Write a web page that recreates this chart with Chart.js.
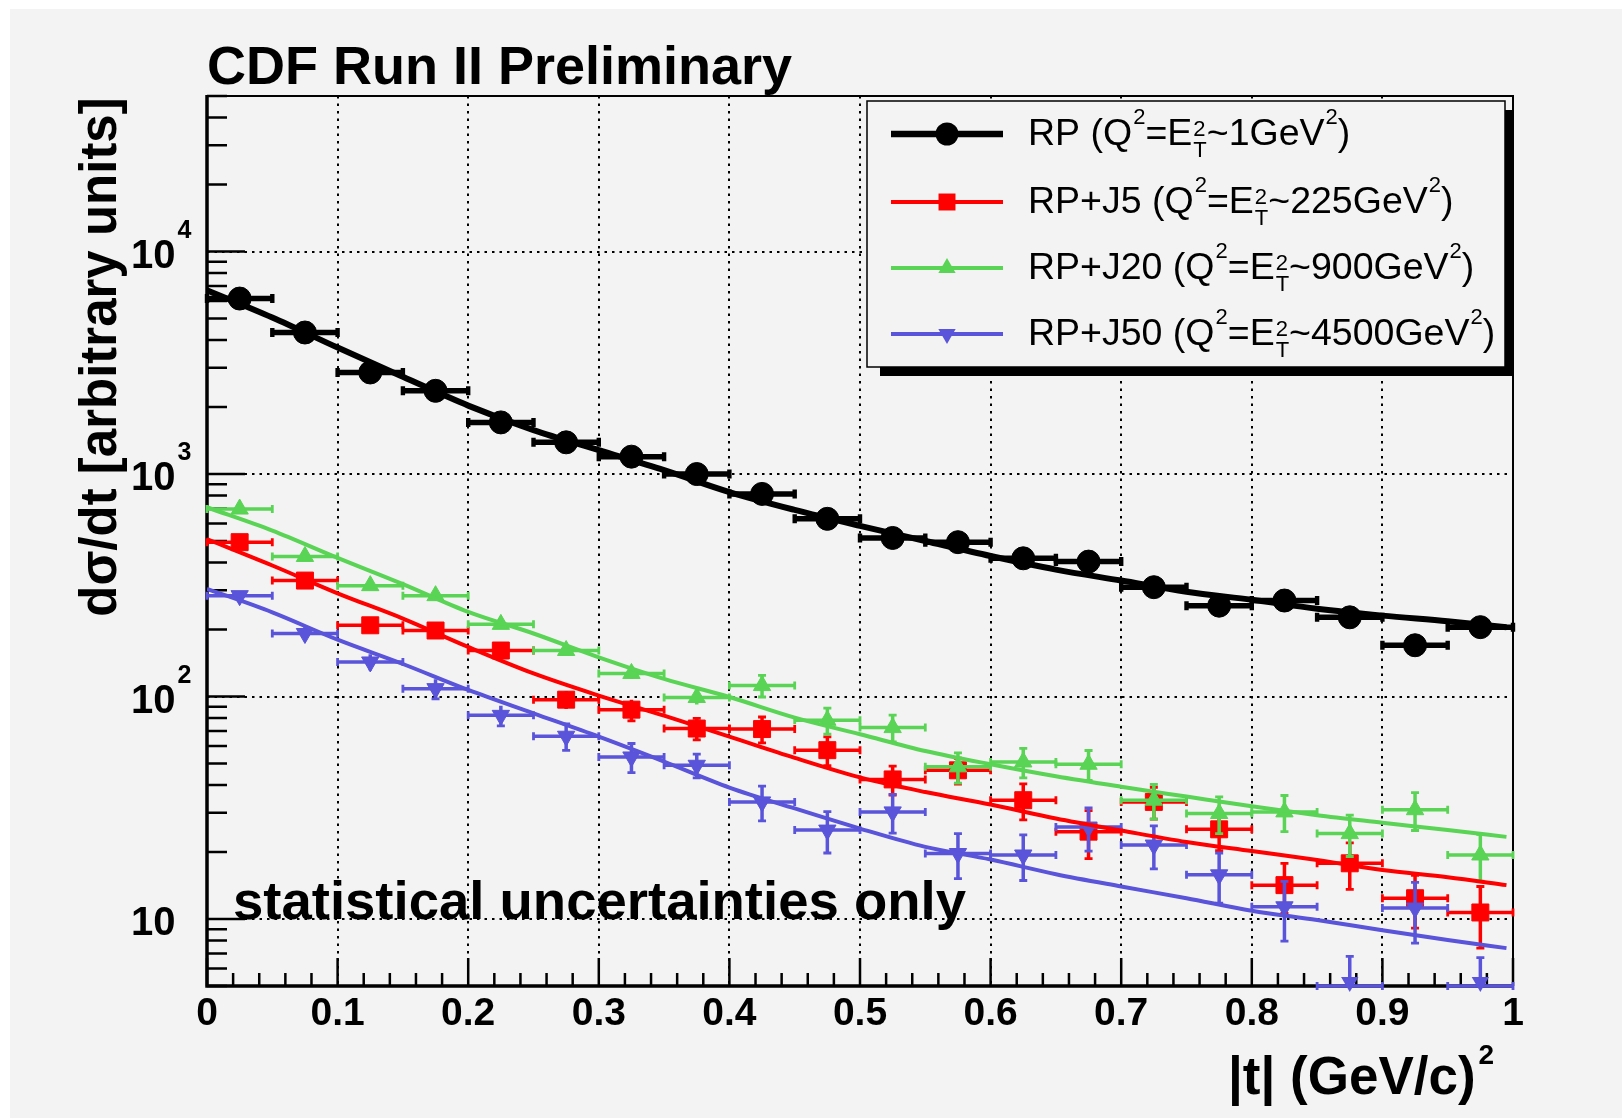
<!DOCTYPE html>
<html>
<head>
<meta charset="utf-8">
<title>CDF Run II Preliminary - d&sigma;/dt</title>
<script src="https://cdn.jsdelivr.net/npm/chart.js@4.4.1/dist/chart.umd.min.js"></script>
<style>
  html, body { margin: 0; padding: 0; background: #fff; }
  canvas { display: block; }
</style>
</head>
<body>
<canvas id="chart" width="1622" height="1118"></canvas>
<script>
// |t| bin centres (GeV/c)^2, bins are 0.05 wide
const tBins = [0.025, 0.075, 0.125, 0.175, 0.225, 0.275, 0.325, 0.375, 0.425, 0.475,
               0.525, 0.575, 0.625, 0.675, 0.725, 0.775, 0.825, 0.875, 0.925, 0.975];
const tHalfWidth = 0.025;

// measured d sigma / dt (arbitrary units) with statistical errors
const rpValues  = [6146, 4325, 2860, 2366, 1706, 1388, 1197, 1000, 814, 629,
                   516, 494, 418, 404, 310, 256, 270, 227, 170, 205];
const rpErrors  = [60, 45, 35, 30, 25, 20, 18, 16, 14, 12, 10, 10, 9, 9, 8, 7, 7, 6, 6, 6];
const j5Values  = [494, 332, 209, 198, 161, 96.8, 87.3, 71.8, 71.4, 57.4,
                   42.4, 46.6, 34.2, 24.7, 33.6, 25.3, 14.2, 17.8, 12.4, 10.7];
const j5Errors  = [20, 15, 10, 10, 10, 9, 9.5, 8, 9.5, 8.5, 6.3, 6.2, 6.3, 6, 5.5, 5, 3.6, 4.2, 3.3, 3.3];
const j20Values = [696, 426, 315, 284, 211, 161, 127, 99, 112, 78.2,
                   72.5, 48.3, 50.8, 49.6, 34.2, 29.8, 30.3, 24.2, 31.0, 19.4];
const j20Errors = [20, 15, 12, 10, 10, 8, 7, 7, 12.5, 10.5, 10, 7.5, 7.7, 7.6, 6.1, 5.6, 5.6, 5.1, 6, 4.6];
// empty bins (0) sit below the axis and are drawn on the frame edge
const j50Values = [284, 192, 143, 108.5, 82.3, 66.3, 53.5, 49.1, 33.6, 25.1,
                   30.3, 19.7, 19.4, 25.9, 21.5, 15.8, 11.35, 0, 11.2, 0];
const j50Errors = [12, 14, 12, 11, 8.5, 9, 8, 6, 6, 5.3, 6, 4.5, 4.5, 5.7, 4.7, 4, 3.4, 6.8, 3.4, 6.7];

// fitted curves
const fitT     = [0, 0.05, 0.1, 0.15, 0.2, 0.25, 0.3, 0.35, 0.4, 0.45, 0.5,
                  0.55, 0.6, 0.65, 0.7, 0.75, 0.8, 0.85, 0.9, 0.95, 0.995];
const rpFit    = [6700, 5050, 3700, 2735, 2030, 1576, 1280, 1040, 830, 690, 585,
                  500, 428, 372, 332, 296, 272, 248, 231, 218, 205];
const j5Fit    = [510, 388, 291, 224, 167, 127, 101, 82, 66, 53, 43.3,
                  37.2, 32.7, 28.3, 25, 22.2, 20.2, 18.4, 16.6, 15.4, 14.2];
const j20Fit   = [709, 557, 420, 320, 240, 192, 150, 120, 99.5, 80.4, 67.7,
                  56.9, 49.6, 43.8, 39.3, 35.5, 32.1, 29.3, 27.1, 25.1, 23.4];
const j50Fit   = [305, 239, 180, 140, 107, 84, 66, 51, 39, 31.4, 25.5,
                  21.1, 18.5, 15.9, 14.0, 12.4, 10.9, 9.9, 8.9, 8.05, 7.4];

// axes
const xTickValues = [0, 0.1, 0.2, 0.3, 0.4, 0.5, 0.6, 0.7, 0.8, 0.9, 1];
const xTickLabels = ['0', '0.1', '0.2', '0.3', '0.4', '0.5', '0.6', '0.7', '0.8', '0.9', '1'];
const xGridValues = [0.1, 0.2, 0.3, 0.4, 0.5, 0.6, 0.7, 0.8, 0.9];
const yTickValues = [10, 100, 1000, 10000];
const yTickLabels = ['10', '10^{2}', '10^{3}', '10^{4}'];

const legendLabels = [
  'RP (Q^{2}=E^{2}_{T}~1GeV^{2})',
  'RP+J5 (Q^{2}=E^{2}_{T}~225GeV^{2})',
  'RP+J20 (Q^{2}=E^{2}_{T}~900GeV^{2})',
  'RP+J50 (Q^{2}=E^{2}_{T}~4500GeV^{2})'
];

const BG = '#f3f3f3';
const BLACK = '#000000', RED = '#ff0000', GREEN = '#59d454', BLUE = '#5954d9';

function font(weight, size) {
  return weight + ' ' + size + 'px "Liberation Sans", Arial, Helvetica, sans-serif';
}

// tiny TLatex-like parser: plain text, ^{sup}, _{sub}, ^{sup}_{sub} stacked
function parseLatex(s) {
  const parts = [];
  const re = /\^\{([^}]*)\}(?:_\{([^}]*)\})?|_\{([^}]*)\}|[^^_]+/g;
  let m;
  while ((m = re.exec(s))) {
    if (m[1] !== undefined) parts.push({ sup: m[1], sub: m[2] });
    else if (m[3] !== undefined) parts.push({ sub: m[3] });
    else parts.push({ text: m[0] });
  }
  return parts;
}

function drawLatex(ctx, str, x, y, o) {
  const parts = parseLatex(str);
  ctx.textBaseline = 'alphabetic';
  ctx.textAlign = 'left';
  let cx = x;
  parts.forEach(p => {
    if (p.text !== undefined) {
      ctx.font = o.font;
      ctx.fillText(p.text, cx, y);
      cx += ctx.measureText(p.text).width;
    } else {
      ctx.font = o.script;
      let w = 0;
      if (p.sup !== undefined && p.sub !== undefined) {
        ctx.fillText(p.sup, cx + o.supGap, y - o.stackRise);
        ctx.fillText(p.sub, cx + o.supGap, y + o.stackDrop);
        w = Math.max(ctx.measureText(p.sup).width, ctx.measureText(p.sub).width) + o.supGap;
      } else if (p.sup !== undefined) {
        ctx.fillText(p.sup, cx + o.supGap, y - o.supRise);
        w = ctx.measureText(p.sup).width + o.supGap;
      } else {
        ctx.fillText(p.sub, cx, y + o.stackDrop);
        w = ctx.measureText(p.sub).width;
      }
      cx += w;
    }
  });
  return cx - x;
}

function drawMarker(ctx, style, x, y, r, color) {
  ctx.fillStyle = color;
  ctx.beginPath();
  if (style === 'circle') {
    ctx.arc(x, y, r, 0, Math.PI * 2);
  } else if (style === 'rect') {
    const h = r * Math.SQRT1_2;
    ctx.rect(x - h, y - h, 2 * h, 2 * h);
  } else {
    const s = style === 'triangleDown' ? -1 : 1;
    const w = r * Math.sqrt(3) / 2;
    ctx.moveTo(x, y - s * r);
    ctx.lineTo(x + w, y + s * r / 2);
    ctx.lineTo(x - w, y + s * r / 2);
    ctx.closePath();
  }
  ctx.fill();
}

function points(values) {
  return tBins.map((t, i) => ({ x: t, y: values[i] }));
}
function curve(values) {
  return fitT.map((t, i) => ({ x: t, y: values[i] }));
}

const series = [
  { values: rpValues,  errors: rpErrors,  fit: rpFit,  color: BLACK, style: 'circle',       radius: 11.5, rot: 0,   bar: 5.5, cap: 9, fitWidth: 6,   legendWidth: 6.5 },
  { values: j5Values,  errors: j5Errors,  fit: j5Fit,  color: RED,   style: 'rect',         radius: 12,   rot: 0,   bar: 3.5, cap: 8, fitWidth: 4,   legendWidth: 4 },
  { values: j20Values, errors: j20Errors, fit: j20Fit, color: GREEN, style: 'triangle',     radius: 10,   rot: 0,   bar: 3.5, cap: 8, fitWidth: 4,   legendWidth: 4 },
  { values: j50Values, errors: j50Errors, fit: j50Fit, color: BLUE,  style: 'triangleDown', radius: 10,   rot: 180, bar: 3.5, cap: 8, fitWidth: 4,   legendWidth: 4 }
];

const datasets = [];
series.forEach((s, i) => {
  datasets.push({
    type: 'line',
    data: curve(s.fit),
    borderColor: s.color,
    borderWidth: s.fitWidth,
    pointRadius: 0,
    fill: false,
    cubicInterpolationMode: 'monotone',
    order: 3 - i
  });
});
series.forEach((s, i) => {
  datasets.push({
    type: 'scatter',
    data: points(s.values),
    pointStyle: s.style === 'triangleDown' ? 'triangle' : s.style,
    pointRotation: s.rot,
    pointRadius: s.radius,
    pointHoverRadius: s.radius,
    pointBorderWidth: 1,
    backgroundColor: s.color,
    borderColor: s.color,
    clip: false,
    errors: s.errors,
    markerStyle: s.style,
    errColor: s.color,
    errBar: s.bar,
    errCap: s.cap,
    order: 10 - i
  });
});

// error bars are drawn just before each marker set
const errorBarPlugin = {
  id: 'errorBars',
  beforeDatasetDraw(chart, args) {
    const ds = chart.data.datasets[args.index];
    if (!ds.errors) return;
    const ctx = chart.ctx;
    const xs = chart.scales.x, ys = chart.scales.y;
    const area = chart.chartArea;
    ctx.save();
    ctx.strokeStyle = ds.errColor;
    ds.data.forEach((p, i) => {
      const err = ds.errors[i];
      const px = xs.getPixelForValue(p.x);
      const py = Math.min(ys.getPixelForValue(p.y), area.bottom);
      const x0 = xs.getPixelForValue(p.x - tHalfWidth);
      const x1 = xs.getPixelForValue(p.x + tHalfWidth);
      const lo = p.y - err;
      const yLo = lo > 0 ? Math.min(ys.getPixelForValue(lo), area.bottom) : area.bottom;
      const yHi = ys.getPixelForValue(p.y + err);
      const c = ds.errCap / 2;
      ctx.lineWidth = ds.errBar;
      ctx.beginPath();
      ctx.moveTo(x0, py); ctx.lineTo(x1, py);
      ctx.moveTo(px, yLo); ctx.lineTo(px, yHi);
      ctx.stroke();
      ctx.lineWidth = ds.errBar * 0.8;
      ctx.beginPath();
      ctx.moveTo(x0, py - c); ctx.lineTo(x0, py + c);
      ctx.moveTo(x1, py - c); ctx.lineTo(x1, py + c);
      if (yHi < py - 10) { ctx.moveTo(px - c, yHi); ctx.lineTo(px + c, yHi); }
      if (yLo > py + 10 && yLo < area.bottom) { ctx.moveTo(px - c, yLo); ctx.lineTo(px + c, yLo); }
      ctx.stroke();
    });
    ctx.restore();
  },
  // points below the axis range are pinned to the frame edge, like ROOT does
  afterDatasetDraw(chart, args) {
    const ds = chart.data.datasets[args.index];
    if (!ds.errors) return;
    const ctx = chart.ctx;
    const xs = chart.scales.x, ys = chart.scales.y;
    ctx.save();
    ds.data.forEach(p => {
      if (p.y < ys.min) {
        drawMarker(ctx, ds.markerStyle, xs.getPixelForValue(p.x), chart.chartArea.bottom - 4, ds.pointRadius, ds.errColor);
      }
    });
    ctx.restore();
  }
};

const backgroundPlugin = {
  id: 'pageBackground',
  beforeDraw(chart) {
    const ctx = chart.ctx;
    ctx.save();
    ctx.fillStyle = '#ffffff';
    ctx.fillRect(0, 0, chart.width, chart.height);
    ctx.fillStyle = BG;
    ctx.fillRect(10, 9, chart.width - 10, chart.height - 9);
    ctx.restore();
  }
};

// ROOT-style frame: ticks inside, labels, titles
const framePlugin = {
  id: 'rootFrame',
  beforeDatasetsDraw(chart) {
    const ctx = chart.ctx;
    const a = chart.chartArea;
    const xs = chart.scales.x, ys = chart.scales.y;
    ctx.save();
    ctx.strokeStyle = '#000';
    ctx.fillStyle = '#000';

    // y ticks
    ctx.lineWidth = 2.5;
    ctx.beginPath();
    for (let dec = 1; dec <= 10000; dec *= 10) {
      for (let k = 1; k <= 9; k++) {
        const v = k * dec;
        if (v < ys.min || v > ys.max) continue;
        const py = ys.getPixelForValue(v);
        const len = k === 1 ? 38 : 20;
        ctx.moveTo(a.left, py); ctx.lineTo(a.left + len, py);
      }
    }
    // x ticks
    for (let i = 0; i <= 50; i++) {
      const px = xs.getPixelForValue(i * 0.02);
      const len = i % 5 === 0 ? 28 : 13;
      ctx.moveTo(px, a.bottom); ctx.lineTo(px, a.bottom - len);
    }
    ctx.stroke();

    // frame
    ctx.lineWidth = 2;
    ctx.beginPath();
    ctx.moveTo(a.left, a.top); ctx.lineTo(a.right, a.top); ctx.lineTo(a.right, a.bottom);
    ctx.stroke();
    ctx.lineWidth = 3.5;
    ctx.beginPath();
    ctx.moveTo(a.left, a.top - 1); ctx.lineTo(a.left, a.bottom); ctx.lineTo(a.right + 1, a.bottom);
    ctx.stroke();

    // x labels
    ctx.font = font('bold', 39);
    ctx.textAlign = 'center';
    ctx.textBaseline = 'alphabetic';
    xTickValues.forEach((v, i) => {
      ctx.fillText(xTickLabels[i], xs.getPixelForValue(v), 1025);
    });

    // y labels
    yTickValues.forEach((v, i) => {
      const py = ys.getPixelForValue(v);
      drawLatex(ctx, yTickLabels[i], 131, py + 16, {
        font: font('bold', 40), script: font('bold', 25), supRise: 30, supGap: 2, stackRise: 0, stackDrop: 0
      });
    });

    // axis titles
    drawLatex(ctx, '|t| (GeV/c)^{2}', 1228, 1094, {
      font: font('bold', 53), script: font('bold', 28), supRise: 30, supGap: 3, stackRise: 0, stackDrop: 0
    });
    ctx.save();
    ctx.translate(116, 357);
    ctx.rotate(-Math.PI / 2);
    ctx.font = font('bold', 51);
    ctx.textAlign = 'center';
    ctx.fillText('d\u03c3/dt [arbitrary units]', 0, 0);
    ctx.restore();

    // title
    ctx.font = font('bold', 54);
    ctx.textAlign = 'left';
    ctx.fillText('CDF Run II Preliminary', 207, 84);
    ctx.restore();
  },
  afterDraw(chart) {
    const ctx = chart.ctx;
    ctx.save();
    ctx.fillStyle = '#000';
    ctx.font = font('bold', 54.5);
    ctx.textAlign = 'left';
    ctx.textBaseline = 'alphabetic';
    ctx.fillText('statistical uncertainties only', 233, 919);

    // legend box with shadow
    const bx = 867, by = 101, bw = 638, bh = 266;
    ctx.fillStyle = '#000';
    ctx.fillRect(bx + 13, by + 9, bw - 6, bh);
    ctx.fillStyle = BG;
    ctx.fillRect(bx, by, bw, bh);
    ctx.strokeStyle = '#000';
    ctx.lineWidth = 1.5;
    ctx.strokeRect(bx, by, bw, bh);

    const rows = [134, 202, 268, 334];
    series.forEach((s, i) => {
      const y = rows[i];
      ctx.strokeStyle = s.color;
      ctx.lineWidth = s.legendWidth;
      ctx.beginPath();
      ctx.moveTo(891, y); ctx.lineTo(1003, y);
      ctx.stroke();
      drawMarker(ctx, s.style, 947, y, s.radius, s.color);
      ctx.fillStyle = '#000';
      drawLatex(ctx, legendLabels[i], 1028, y + 11, {
        font: font('normal', 37.5), script: font('normal', 22), supRise: 21, supGap: 1, stackRise: 9, stackDrop: 12
      });
    });
    ctx.restore();
  }
};

new Chart(document.getElementById('chart'), {
  data: { datasets: datasets },
  options: {
    responsive: false,
    animation: false,
    devicePixelRatio: 1,
    layout: { padding: { left: 207, right: 109, top: 96, bottom: 132 } },
    plugins: { legend: { display: false }, tooltip: { enabled: false } },
    events: [],
    scales: {
      x: {
        type: 'linear', min: 0, max: 1,
        afterBuildTicks: s => { s.ticks = xGridValues.map(v => ({ value: v })); },
        afterFit: s => { s.height = 0; },
        ticks: { display: false },
        grid: { color: '#000', lineWidth: 2, drawTicks: false, tickLength: 0 },
        border: { display: false, dash: [2.5, 5] }
      },
      y: {
        type: 'logarithmic', min: 5, max: 50000,
        afterBuildTicks: s => { s.ticks = yTickValues.map(v => ({ value: v })); },
        afterFit: s => { s.width = 0; },
        ticks: { display: false },
        grid: { color: '#000', lineWidth: 2, drawTicks: false, tickLength: 0 },
        border: { display: false, dash: [2.5, 5] }
      }
    }
  },
  plugins: [backgroundPlugin, errorBarPlugin, framePlugin]
});
</script>
</body>
</html>
